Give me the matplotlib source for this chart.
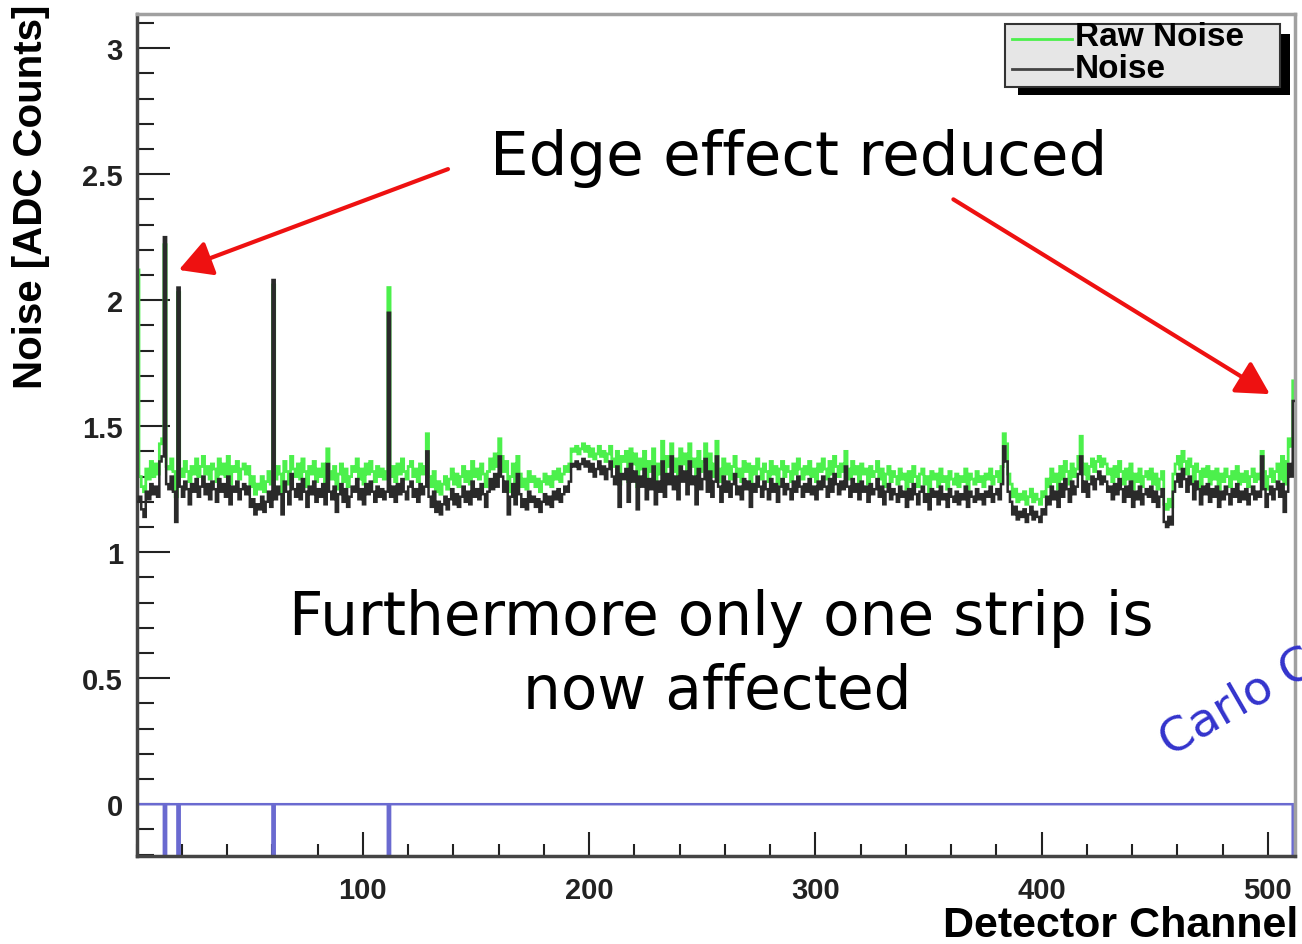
import numpy as np
import matplotlib
matplotlib.use('Agg')
import matplotlib.pyplot as plt
from matplotlib.ticker import MultipleLocator, FixedLocator, FuncFormatter
from matplotlib.patches import Rectangle
from matplotlib.lines import Line2D

# noise per detector channel (ch 0..511), 16 channels per row
noise = [
    1.20, 1.22, 1.17, 1.14, 1.24, 1.21, 1.27, 1.23, 1.26, 1.22, 1.36, 1.38, 2.25, 1.27, 1.25, 1.30,
    1.24, 1.12, 2.05, 1.26, 1.22, 1.28, 1.25, 1.19, 1.27, 1.24, 1.29, 1.22, 1.26, 1.30, 1.23, 1.27,
    1.21, 1.28, 1.25, 1.20, 1.29, 1.24, 1.27, 1.22, 1.30, 1.19, 1.26, 1.24, 1.28, 1.21, 1.25, 1.27,
    1.23, 1.26, 1.18, 1.21, 1.15, 1.19, 1.17, 1.22, 1.16, 1.20, 1.24, 1.18, 2.08, 1.21, 1.26, 1.23,
    1.15, 1.28, 1.24, 1.19, 1.31, 1.25, 1.22, 1.27, 1.21, 1.29, 1.24, 1.18, 1.26, 1.23, 1.28, 1.20,
    1.25, 1.22, 1.27, 1.19, 1.35, 1.24, 1.21, 1.26, 1.16, 1.23, 1.27, 1.20, 1.25, 1.18, 1.22, 1.26,
    1.24, 1.29, 1.21, 1.25, 1.19, 1.27, 1.23, 1.28, 1.24, 1.20, 1.26, 1.22, 1.25, 1.21, 1.24, 1.95,
    1.22, 1.26, 1.20, 1.27, 1.23, 1.29, 1.24, 1.21, 1.26, 1.28, 1.22, 1.25, 1.20, 1.27, 1.23, 1.26,
    1.40, 1.22, 1.18, 1.24, 1.16, 1.20, 1.15, 1.19, 1.22, 1.17, 1.21, 1.25, 1.19, 1.23, 1.18, 1.22,
    1.26, 1.20, 1.24, 1.19, 1.28, 1.22, 1.25, 1.21, 1.27, 1.23, 1.18, 1.24, 1.29, 1.25, 1.31, 1.26,
    1.38, 1.30, 1.24, 1.28, 1.15, 1.22, 1.27, 1.19, 1.31, 1.23, 1.18, 1.21, 1.17, 1.24, 1.20, 1.22,
    1.18, 1.21, 1.16, 1.20, 1.23, 1.19, 1.22, 1.18, 1.24, 1.21, 1.25, 1.20, 1.23, 1.26, 1.24, 1.28,
    1.35, 1.34, 1.36, 1.33, 1.35, 1.37, 1.34, 1.36, 1.32, 1.35, 1.30, 1.33, 1.36, 1.31, 1.34, 1.29,
    1.33, 1.36, 1.30, 1.27, 1.34, 1.18, 1.31, 1.29, 1.33, 1.20, 1.35, 1.28, 1.32, 1.17, 1.30, 1.26,
    1.33, 1.21, 1.29, 1.25, 1.34, 1.19, 1.28, 1.24, 1.36, 1.22, 1.31, 1.27, 1.38, 1.25, 1.30, 1.21,
    1.34, 1.28, 1.32, 1.23, 1.36, 1.27, 1.30, 1.19, 1.33, 1.25, 1.29, 1.37, 1.24, 1.32, 1.22, 1.28,
    1.38, 1.26, 1.20, 1.30, 1.24, 1.28, 1.22, 1.27, 1.31, 1.23, 1.26, 1.21, 1.29, 1.25, 1.28, 1.18,
    1.27, 1.24, 1.30, 1.26, 1.22, 1.28, 1.25, 1.21, 1.29, 1.24, 1.27, 1.20, 1.26, 1.29, 1.23, 1.27,
    1.25, 1.21, 1.28, 1.24, 1.30, 1.26, 1.22, 1.27, 1.24, 1.29, 1.23, 1.26, 1.21, 1.28, 1.25, 1.30,
    1.26, 1.22, 1.29, 1.24, 1.31, 1.27, 1.23, 1.28, 1.25, 1.34, 1.26, 1.22, 1.29, 1.24, 1.27, 1.21,
    1.28, 1.24, 1.26, 1.20, 1.27, 1.23, 1.25, 1.29, 1.22, 1.26, 1.19, 1.24, 1.27, 1.21, 1.25, 1.23,
    1.20, 1.26, 1.22, 1.24, 1.18, 1.25, 1.21, 1.27, 1.23, 1.19, 1.24, 1.26, 1.20, 1.23, 1.17, 1.25,
    1.22, 1.24, 1.19, 1.26, 1.21, 1.23, 1.18, 1.25, 1.22, 1.20, 1.24, 1.19, 1.23, 1.21, 1.26, 1.18,
    1.24, 1.22, 1.20, 1.25, 1.21, 1.23, 1.19, 1.24, 1.22, 1.26, 1.20, 1.23, 1.25, 1.21, 1.27, 1.42,
    1.36, 1.24, 1.20, 1.15, 1.18, 1.13, 1.16, 1.14, 1.17, 1.12, 1.15, 1.18, 1.13, 1.16, 1.14, 1.12,
    1.17, 1.15, 1.22, 1.19, 1.26, 1.21, 1.24, 1.18, 1.27, 1.22, 1.29, 1.25, 1.20, 1.28, 1.23, 1.26,
    1.31, 1.38, 1.24, 1.28, 1.22, 1.27, 1.30, 1.25, 1.29, 1.32, 1.27, 1.30, 1.28, 1.24, 1.26, 1.21,
    1.27, 1.23, 1.29, 1.25, 1.20, 1.26, 1.22, 1.28, 1.18, 1.24, 1.21, 1.26, 1.19, 1.23, 1.25, 1.22,
    1.26, 1.20, 1.24, 1.18, 1.22, 1.25, 1.12, 1.10, 1.14, 1.11, 1.24, 1.28, 1.31, 1.26, 1.33, 1.29,
    1.24, 1.30, 1.27, 1.21, 1.28, 1.25, 1.19, 1.26, 1.23, 1.27, 1.20, 1.25, 1.22, 1.26, 1.18, 1.24,
    1.21, 1.26, 1.23, 1.19, 1.25, 1.22, 1.27, 1.20, 1.24, 1.21, 1.25, 1.19, 1.23, 1.26, 1.21, 1.24,
    1.22, 1.38, 1.25, 1.18, 1.23, 1.26, 1.21, 1.25, 1.28, 1.22, 1.27, 1.16, 1.24, 1.35, 1.30, 1.60,
]

raw_noise = [
    2.12, 1.30, 1.26, 1.24, 1.33, 1.29, 1.36, 1.30, 1.35, 1.31, 1.43, 1.45, 2.22, 1.34, 1.33, 1.37,
    1.32, 1.22, 2.03, 1.33, 1.30, 1.36, 1.32, 1.28, 1.34, 1.31, 1.37, 1.30, 1.34, 1.38, 1.31, 1.34,
    1.29, 1.35, 1.33, 1.28, 1.37, 1.31, 1.35, 1.30, 1.38, 1.27, 1.34, 1.32, 1.36, 1.29, 1.33, 1.35,
    1.31, 1.34, 1.26, 1.30, 1.23, 1.27, 1.25, 1.30, 1.24, 1.28, 1.32, 1.27, 2.06, 1.29, 1.34, 1.31,
    1.24, 1.36, 1.32, 1.27, 1.38, 1.33, 1.30, 1.35, 1.29, 1.37, 1.32, 1.26, 1.34, 1.31, 1.36, 1.28,
    1.33, 1.30, 1.35, 1.27, 1.41, 1.32, 1.29, 1.34, 1.25, 1.31, 1.35, 1.28, 1.33, 1.26, 1.30, 1.34,
    1.32, 1.37, 1.29, 1.33, 1.27, 1.35, 1.31, 1.36, 1.32, 1.28, 1.34, 1.30, 1.33, 1.29, 1.32, 2.05,
    1.30, 1.34, 1.28, 1.35, 1.31, 1.37, 1.32, 1.29, 1.34, 1.36, 1.30, 1.33, 1.28, 1.35, 1.31, 1.34,
    1.47, 1.30, 1.26, 1.32, 1.24, 1.28, 1.23, 1.27, 1.30, 1.25, 1.29, 1.33, 1.27, 1.31, 1.26, 1.30,
    1.34, 1.28, 1.32, 1.27, 1.36, 1.30, 1.33, 1.29, 1.35, 1.31, 1.26, 1.32, 1.37, 1.33, 1.39, 1.34,
    1.45, 1.38, 1.32, 1.36, 1.24, 1.30, 1.35, 1.27, 1.38, 1.31, 1.26, 1.29, 1.25, 1.32, 1.28, 1.30,
    1.26, 1.29, 1.24, 1.28, 1.31, 1.27, 1.30, 1.26, 1.32, 1.29, 1.33, 1.28, 1.31, 1.34, 1.32, 1.35,
    1.41, 1.40, 1.42, 1.39, 1.41, 1.43, 1.40, 1.42, 1.38, 1.41, 1.37, 1.39, 1.42, 1.38, 1.40, 1.36,
    1.39, 1.42, 1.37, 1.34, 1.40, 1.27, 1.38, 1.36, 1.40, 1.28, 1.41, 1.35, 1.39, 1.26, 1.37, 1.33,
    1.40, 1.29, 1.36, 1.32, 1.41, 1.27, 1.35, 1.31, 1.44, 1.30, 1.38, 1.34, 1.43, 1.32, 1.37, 1.29,
    1.41, 1.35, 1.39, 1.31, 1.43, 1.34, 1.37, 1.27, 1.40, 1.32, 1.36, 1.43, 1.31, 1.39, 1.30, 1.35,
    1.44, 1.33, 1.28, 1.37, 1.31, 1.35, 1.29, 1.34, 1.38, 1.30, 1.33, 1.28, 1.36, 1.32, 1.35, 1.26,
    1.34, 1.31, 1.37, 1.33, 1.29, 1.35, 1.32, 1.28, 1.36, 1.31, 1.34, 1.27, 1.33, 1.36, 1.30, 1.34,
    1.32, 1.28, 1.35, 1.31, 1.37, 1.33, 1.29, 1.34, 1.31, 1.36, 1.30, 1.33, 1.28, 1.35, 1.32, 1.37,
    1.33, 1.29, 1.36, 1.31, 1.38, 1.34, 1.30, 1.35, 1.32, 1.40, 1.33, 1.29, 1.36, 1.31, 1.34, 1.28,
    1.35, 1.31, 1.33, 1.27, 1.34, 1.30, 1.32, 1.36, 1.29, 1.33, 1.26, 1.31, 1.34, 1.28, 1.32, 1.30,
    1.27, 1.33, 1.29, 1.31, 1.25, 1.32, 1.28, 1.34, 1.30, 1.26, 1.31, 1.33, 1.27, 1.30, 1.24, 1.32,
    1.29, 1.31, 1.26, 1.33, 1.28, 1.30, 1.25, 1.32, 1.29, 1.27, 1.31, 1.26, 1.30, 1.28, 1.33, 1.25,
    1.31, 1.29, 1.27, 1.32, 1.28, 1.30, 1.26, 1.31, 1.29, 1.33, 1.27, 1.30, 1.32, 1.28, 1.34, 1.47,
    1.43, 1.31, 1.27, 1.22, 1.25, 1.20, 1.23, 1.21, 1.24, 1.19, 1.22, 1.25, 1.20, 1.23, 1.21, 1.19,
    1.24, 1.22, 1.29, 1.26, 1.33, 1.28, 1.31, 1.25, 1.34, 1.29, 1.36, 1.32, 1.27, 1.35, 1.30, 1.33,
    1.38, 1.46, 1.31, 1.35, 1.29, 1.34, 1.37, 1.32, 1.36, 1.38, 1.34, 1.37, 1.35, 1.31, 1.33, 1.28,
    1.34, 1.30, 1.36, 1.32, 1.27, 1.33, 1.29, 1.35, 1.25, 1.31, 1.28, 1.33, 1.26, 1.30, 1.32, 1.29,
    1.33, 1.27, 1.31, 1.25, 1.29, 1.32, 1.19, 1.17, 1.21, 1.18, 1.31, 1.35, 1.38, 1.33, 1.40, 1.36,
    1.31, 1.37, 1.34, 1.28, 1.35, 1.32, 1.26, 1.33, 1.30, 1.34, 1.27, 1.32, 1.29, 1.33, 1.25, 1.31,
    1.28, 1.33, 1.30, 1.26, 1.32, 1.29, 1.34, 1.27, 1.31, 1.28, 1.32, 1.26, 1.30, 1.33, 1.28, 1.31,
    1.29, 1.40, 1.32, 1.25, 1.30, 1.33, 1.28, 1.32, 1.35, 1.29, 1.38, 1.27, 1.36, 1.45, 1.42, 1.68,
]

# flagged (bad) strips, shown as blue spikes below 0
bad_channels = [12, 18, 60, 111, 511]

n_ch = len(noise)
edges = np.arange(n_ch + 1)
flags = np.zeros(n_ch)
flags[bad_channels] = -1

fig = plt.figure(figsize=(13.02, 9.45), dpi=100)
ax = fig.add_axes([0.105, 0.093, 0.8896, 0.891])

ax.stairs(raw_noise, edges, color='#4cf04c', lw=2.0, baseline=None, zorder=2)
ax.stairs(noise, edges, color='#2a2a2a', lw=1.8, baseline=None, zorder=3)
ax.stairs(flags, edges, color='#6a6ad0', lw=1.8, baseline=None, zorder=2)

ax.set_xlim(0, 512)
ax.set_ylim(-0.206, 3.135)

ax.xaxis.set_major_locator(FixedLocator([100, 200, 300, 400, 500]))
ax.xaxis.set_minor_locator(MultipleLocator(20))
ax.yaxis.set_major_locator(MultipleLocator(0.5))
ax.yaxis.set_minor_locator(MultipleLocator(0.1))
ax.yaxis.set_major_formatter(FuncFormatter(lambda v, p: '%g' % v))

lbl_font = dict(family='Liberation Sans', weight='bold', size=21)
ax.tick_params(axis='x', which='major', direction='in', length=17, width=1.5,
               pad=14, colors='#222222')
ax.tick_params(axis='x', which='minor', direction='in', length=9, width=1.5, colors='#222222')
ax.tick_params(axis='y', which='major', direction='in', length=24, width=1.5,
               pad=10, colors='#222222')
ax.tick_params(axis='y', which='minor', direction='in', length=12, width=1.5, colors='#222222')
for t in ax.get_xticklabels() + ax.get_yticklabels():
    t.set_fontproperties(matplotlib.font_manager.FontProperties(**lbl_font))

ax.spines['left'].set_color('#444444')
ax.spines['bottom'].set_color('#444444')
ax.spines['top'].set_color('#a0a0a0')
ax.spines['right'].set_color('#a0a0a0')
for s in ax.spines.values():
    s.set_linewidth(2.5)

fig.text(31 / 1302, 1 - 5 / 945, 'Noise [ADC Counts]', rotation=90, ha='center', va='top',
         family='Liberation Sans', weight='bold', size=29)
fig.text(1298 / 1302, 1 - 926 / 945, 'Detector Channel', ha='right', va='center',
         family='Liberation Sans', weight='bold', size=31)

# legend box with ROOT-style shadow
fig.patches.append(Rectangle((1018 / 1302, 1 - 96 / 945), 272 / 1302, 61 / 945,
                             transform=fig.transFigure, facecolor='black', edgecolor='none'))
fig.patches.append(Rectangle((1005 / 1302, 1 - 88 / 945), 275 / 1302, 63 / 945,
                             transform=fig.transFigure, facecolor='#e6e6e6',
                             edgecolor='#333333', lw=1.5))
fig.lines.append(Line2D([1012 / 1302, 1072 / 1302], [1 - 40 / 945, 1 - 40 / 945],
                        transform=fig.transFigure, color='#4cf04c', lw=2.0))
fig.lines.append(Line2D([1012 / 1302, 1072 / 1302], [1 - 70 / 945, 1 - 70 / 945],
                        transform=fig.transFigure, color='#444444', lw=2.0))
fig.text(1075 / 1302, 1 - 38 / 945, 'Raw Noise', ha='left', va='center',
         family='Liberation Sans', weight='bold', size=24)
fig.text(1075 / 1302, 1 - 70 / 945, 'Noise', ha='left', va='center',
         family='Liberation Sans', weight='bold', size=24)

# annotations
ax.text(292.5, 2.567, 'Edge effect reduced', ha='center', va='center',
        family='DejaVu Sans', size=44, zorder=5)
ax.text(258.4, 0.742, 'Furthermore only one strip is', ha='center', va='center',
        family='DejaVu Sans', size=43, zorder=5)
ax.text(256.6, 0.448, 'now affected', ha='center', va='center',
        family='DejaVu Sans', size=43, zorder=5)

arrow = dict(arrowstyle='-|>,head_length=1.0,head_width=0.55', color='#ee1111', lw=3,
             mutation_scale=20, shrinkA=0, shrinkB=0)
ax.annotate('', xy=(18.6, 2.12), xytext=(137.6, 2.52), arrowprops=arrow, zorder=6)
ax.annotate('', xy=(500.9, 1.627), xytext=(361.0, 2.40), arrowprops=arrow, zorder=6)

fig.text(1170 / 1302, 1 - 757 / 945, 'Carlo C', ha='left', va='baseline', rotation=30,
         rotation_mode='anchor', family='DejaVu Sans', size=34, color='#3333cc')

fig.savefig('out.png', dpi=100, facecolor='white')
